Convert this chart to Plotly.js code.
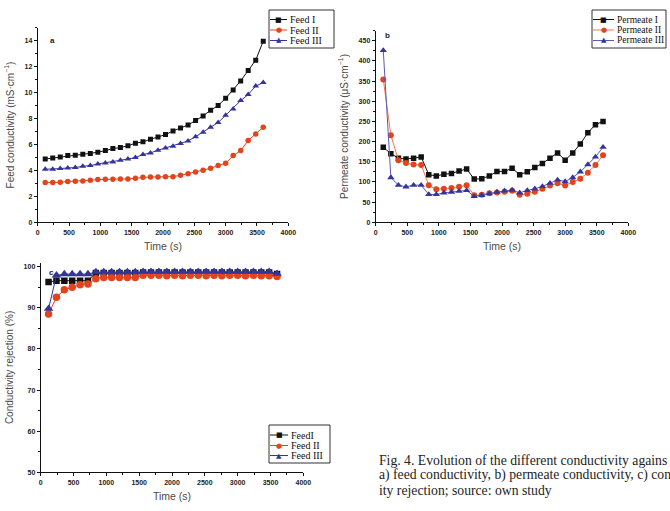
<!DOCTYPE html>
<html>
<head>
<meta charset="utf-8">
<script src="https://cdn.plot.ly/plotly-3.0.1.min.js"></script>
<style>html,body{margin:0;padding:0;background:#fff;}#chart{width:670px;height:511px;}</style>
</head>
<body>
<div id="chart"></div>
<script>
// ---- data ----
const time = [120,240,360,480,600,720,840,960,1080,1200,1320,1440,1560,1680,1800,1920,2040,2160,2280,2400,2520,2640,2760,2880,3000,3120,3240,3360,3480,3600];

// a) feed conductivity (mS/cm)
const feedI   = [4.88,4.96,5.04,5.14,5.17,5.24,5.30,5.40,5.53,5.68,5.76,5.90,6.10,6.20,6.40,6.58,6.76,7.04,7.27,7.50,7.84,8.20,8.64,9.00,9.56,10.2,10.9,11.7,12.5,13.96];
const feedII  = [3.06,3.06,3.08,3.14,3.16,3.19,3.24,3.29,3.32,3.32,3.34,3.34,3.39,3.47,3.50,3.50,3.52,3.52,3.62,3.75,3.88,4.01,4.16,4.37,4.55,5.14,5.53,6.30,6.81,7.33];
const feedIII = [4.09,4.09,4.14,4.19,4.22,4.32,4.37,4.50,4.58,4.65,4.78,4.88,4.99,5.22,5.35,5.55,5.73,5.86,6.07,6.27,6.60,6.94,7.33,7.69,8.25,8.74,9.38,9.85,10.5,10.77];

// b) permeate conductivity (uS/cm)
const permI   = [186,170,159,157,159,162,118,115,119,121,127,132,107,108,115,126,126,134,118,125,136,146,159,172,154,172,194,222,242,250];
const permII  = [354,216,154,147,143,142,92,82,83,85,88,92,67,68,72,74,76,78,68,71,76,83,91,97,91,100,108,123,142,166];
const permIII = [426,111,92,88,92,92,69,69,73,75,77,79,64,67,71,75,78,80,73,79,83,89,97,105,101,111,125,143,162,186];

// c) conductivity rejection (%)
const rejI   = [96.3,96.6,96.6,96.6,96.6,96.6,98.5,98.5,98.5,98.5,98.5,98.5,98.6,98.6,98.6,98.6,98.6,98.6,98.6,98.6,98.6,98.6,98.6,98.6,98.6,98.6,98.6,98.6,98.6,98.2];
const rejII  = [88.5,92.6,94.4,95.0,95.6,95.8,97.1,97.4,97.4,97.4,97.4,97.4,97.9,97.9,97.9,97.8,97.9,97.8,97.9,97.9,97.8,97.9,97.8,97.9,97.9,97.8,97.9,97.8,97.8,97.6];
const rejIII = [89.8,97.9,98.2,98.2,98.2,98.2,98.7,98.7,98.7,98.7,98.7,98.7,98.8,98.8,98.8,98.8,98.8,98.8,98.8,98.8,98.8,98.8,98.8,98.8,98.8,98.8,98.8,98.8,98.8,98.3];

const namesA = ['Feed I','Feed II','Feed III'];
const namesB = ['Permeate I','Permeate II','Permeate III'];
const namesC = ['FeedI','Feed II','Feed III'];
const xTicks = [0,500,1000,1500,2000,2500,3000,3500,4000];

// ---- styling ----
const W = 670, H = 511;
const px = x => x / W;
const py = y => 1 - y / H;
const cBlack = '#111111', cRed = '#e2451d', cBlue = '#34349a';
const cRedLine = '#ee7a4a', cBlueLine = '#5a5ab8';

function tr(x, y, xa, ya, color, lineColor, symbol, size) {
  return {x: x, y: y, xaxis: xa, yaxis: ya, type: 'scatter', mode: 'lines+markers',
    showlegend: false,
    line: {color: lineColor, width: 1},
    marker: {color: color, symbol: symbol, size: size, line: {width: 0}}};
}

const data = [
  tr(time, feedI,   'x',  'y',  cBlack, cBlack, 'square', 5),
  tr(time, feedII,  'x',  'y',  cRed,   cRed,   'circle', 5.5),
  tr(time, feedIII, 'x',  'y',  cBlue,  cBlue,  'triangle-up', 6),
  tr(time, permI,   'x2', 'y2', cBlack, cBlack, 'square', 5.5),
  tr(time, permII,  'x2', 'y2', cRed,   cRedLine, 'circle', 6),
  tr(time, permIII, 'x2', 'y2', cBlue,  cBlueLine, 'triangle-up', 6.5),
  tr(time, rejI,    'x3', 'y3', cBlack, cBlack, 'square', 6.5),
  tr(time, rejII,   'x3', 'y3', cRed,   cRed,   'circle', 7.5),
  tr(time, rejIII,  'x3', 'y3', cBlue,  cBlue,  'triangle-up', 8.5)
];

const tickFont = {family: 'Liberation Sans, Arial, sans-serif', size: 7, color: '#222', weight: 'bold'};
const titleFont = {family: 'Liberation Sans, Arial, sans-serif', size: 10, color: '#4a4a4a', weight: 'normal'};

function xAxis(domain, anchor) {
  return {domain: domain, anchor: anchor, range: [0, 4000], tickvals: xTicks,
    showgrid: false, zeroline: false, showline: true, linecolor: '#111', linewidth: 1,
    ticks: 'outside', ticklen: 3, tickwidth: 1, tickcolor: '#111',
    minor: {dtick: 250, ticks: 'outside', ticklen: 2, tickcolor: '#111', showgrid: false},
    tickfont: tickFont, title: {text: 'Time (s)', font: {...titleFont, size: 10.5}, standoff: 7}};
}
function yAxis(domain, anchor, range, dtick, minorDtick, title) {
  return {domain: domain, anchor: anchor, range: range, dtick: dtick, tick0: range[0],
    showgrid: false, zeroline: false, showline: true, linecolor: '#111', linewidth: 1,
    ticks: 'outside', ticklen: 3, tickwidth: 1, tickcolor: '#111',
    minor: {dtick: minorDtick, ticks: 'outside', ticklen: 2, tickcolor: '#111', showgrid: false},
    tickfont: tickFont, title: {text: title, font: titleFont, standoff: 8}};
}

const shapes = [];
const annotations = [];

function legendBox(x0, x1, y0, y1, rows, lineX0, lineX1, names, glyphs, colors, lineColors, fs) {
  shapes.push({type: 'rect', xref: 'paper', yref: 'paper', x0: px(x0), x1: px(x1), y0: py(y1), y1: py(y0),
    line: {color: '#333', width: 1}, fillcolor: 'rgba(0,0,0,0)'});
  for (let i = 0; i < 3; i++) {
    shapes.push({type: 'line', xref: 'paper', yref: 'paper', x0: px(lineX0), x1: px(lineX1), y0: py(rows[i]), y1: py(rows[i]),
      line: {color: lineColors[i], width: 1}});
    annotations.push({xref: 'paper', yref: 'paper', x: px((lineX0 + lineX1) / 2), y: py(rows[i]), xanchor: 'center', yanchor: 'middle',
      text: glyphs[i], showarrow: false, font: {size: 7, color: colors[i], family: 'DejaVu Sans'}});
    annotations.push({xref: 'paper', yref: 'paper', x: px(lineX1 + 1), y: py(rows[i]), xanchor: 'left', yanchor: 'middle',
      text: names[i], showarrow: false, font: {size: fs, color: '#111', family: 'Liberation Serif, Times New Roman, serif'}});
  }
}
const glyphs = ['■', '●', '▲'];
legendBox(269, 334, 10, 48, [19.5, 30, 40.5], 270, 287, namesA, glyphs, [cBlack, cRed, cBlue], [cBlack, cRed, cBlue], 10);
legendBox(592, 666, 10, 48, [19.5, 30, 40.5], 593, 614, namesB, glyphs, [cBlack, cRed, cBlue], [cBlack, cRedLine, cBlueLine], 9.5);
legendBox(269, 330, 425, 463, [435, 445.5, 455.5], 270, 288, namesC, glyphs, [cBlack, cRed, cBlue], [cBlack, cRed, cBlue], 10);

// panel letters
[['a', 52, 40], ['b', 387, 35], ['c', 51, 272]].forEach(l => annotations.push({xref: 'paper', yref: 'paper',
  x: px(l[1]), y: py(l[2]), xanchor: 'center', yanchor: 'middle', text: l[0], showarrow: false,
  font: {size: 8, color: '#222', family: 'Liberation Sans, Arial, sans-serif', weight: 'bold'}}));

// caption (as visible in the reference, which is cut at the right edge)
const caption = ['Fig. 4. Evolution of the different conductivity agains',
                 'a) feed conductivity, b) permeate conductivity, c) con',
                 'ity rejection; source: own study'];
caption.forEach((t, i) => annotations.push({xref: 'paper', yref: 'paper', x: px(377), y: py(460 + i * 15),
  xanchor: 'left', yanchor: 'middle', text: t, showarrow: false,
  font: {size: 13.7, color: '#222', family: 'Liberation Serif, Times New Roman, serif'}}));

const layout = {
  width: W, height: H, margin: {l: 0, r: 0, t: 0, b: 0},
  paper_bgcolor: '#fff', plot_bgcolor: '#fff', showlegend: false,
  xaxis:  xAxis([px(37.7), px(288.3)], 'y'),
  yaxis:  yAxis([py(222.3), py(27.7)], 'x', [0, 15], 2, 1, 'Feed conductivity (mS·cm<sup>−1</sup>)'),
  xaxis2: xAxis([px(375.7), px(628.3)], 'y2'),
  yaxis2: yAxis([py(222.3), py(30.6)], 'x2', [0, 475], 50, 25, 'Permeate conductivity (μS·cm<sup>−1</sup>)'),
  xaxis3: xAxis([px(40.7), px(303.3)], 'y3'),
  yaxis3: yAxis([py(472.3), py(262.6)], 'x3', [50, 101], 10, 5, 'Conductivity rejection (%)'),
  shapes: shapes, annotations: annotations
};
layout.yaxis.tickvals = [0,2,4,6,8,10,12,14];
layout.yaxis2.tickvals = [0,50,100,150,200,250,300,350,400,450];
layout.yaxis3.tickvals = [50,60,70,80,90,100];

Plotly.newPlot('chart', data, layout, {displayModeBar: false, staticPlot: true});
</script>
</body>
</html>
